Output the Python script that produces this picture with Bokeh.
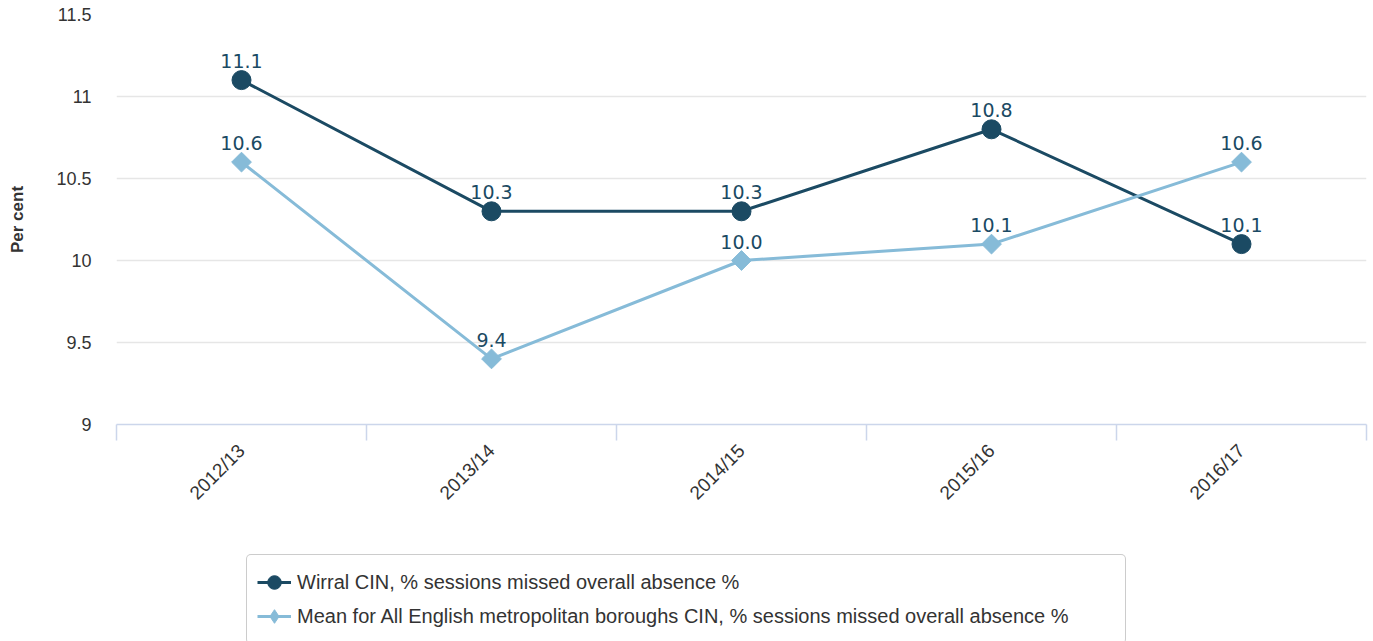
import math
from bokeh.plotting import figure
from bokeh.layouts import column
from bokeh.models import (LinearAxis, FixedTicker, CustomJSTickFormatter, Legend, LegendItem,
                          ColumnDataSource, Range1d, Grid)
from bokeh.core.properties import value
from bokeh.embed import file_html
from bokeh.resources import INLINE

# ---- data ----
categories = ["2012/13", "2013/14", "2014/15", "2015/16", "2016/17"]
wirral = [11.1, 10.3, 10.3, 10.8, 10.1]
england_mean = [10.6, 9.4, 10.0, 10.1, 10.6]
y_ticks = [9, 9.5, 10, 10.5, 11, 11.5]
series_names = [
    "Wirral CIN, % sessions missed overall absence %",
    "Mean for All English metropolitan boroughs CIN, % sessions missed overall absence %",
]
y_title = "Per cent"

DARK = "#1b4a63"
LIGHT = "#86bbd8"
TXT = "#333333"
SANS = "Liberation Sans"

W = 1373
H_MAIN = 530
H_LEG = 641 - H_MAIN

xpos = [i + 0.5 for i in range(len(categories))]
src = ColumnDataSource(dict(
    x=xpos, cat=categories, w=wirral, m=england_mean,
    wl=[f"{v:.1f}" for v in wirral], ml=[f"{v:.1f}" for v in england_mean],
))

p = figure(width=W, height=H_MAIN, output_backend="svg", toolbar_location=None,
           x_range=Range1d(0, len(categories)), y_range=Range1d(y_ticks[0], y_ticks[-1]),
           x_axis_type=None, y_axis_type=None,
           min_border_left=116, min_border_right=7, min_border_top=14, min_border_bottom=H_MAIN - 424)
p.outline_line_color = None
p.background_fill_color = "white"
p.border_fill_color = "white"

# y axis
yaxis = LinearAxis(ticker=FixedTicker(ticks=y_ticks),
                   formatter=CustomJSTickFormatter(code="return tick.toString()"),
                   axis_line_color=None, major_tick_line_color=None, minor_tick_line_color=None,
                   major_label_text_font=SANS, major_label_text_font_size="18px",
                   major_label_text_color=TXT, major_label_standoff=19,
                   axis_label=y_title, axis_label_text_font=SANS, axis_label_text_font_size="17px",
                   axis_label_text_font_style="bold", axis_label_text_color=TXT,
                   axis_label_standoff=26)
p.add_layout(yaxis, "left")
p.add_layout(Grid(dimension=1, ticker=yaxis.ticker, grid_line_color="#e6e6e6", grid_line_width=1.5))

# x axis: boundary ticks
xtick_axis = LinearAxis(ticker=FixedTicker(ticks=list(range(len(categories) + 1))),
                        formatter=CustomJSTickFormatter(code="return ''"),
                        axis_line_color="#ccd6eb", axis_line_width=1.5,
                        major_tick_line_color="#ccd6eb", major_tick_line_width=1.5,
                        major_tick_out=16, major_tick_in=0, minor_tick_line_color=None,
                        major_label_text_font_size="0px", major_label_standoff=0)
p.add_layout(xtick_axis, "below")

# x axis: category labels
xlabel_axis = LinearAxis(ticker=FixedTicker(ticks=xpos),
                         formatter=CustomJSTickFormatter(args=dict(cats=categories),
                                                         code="return cats[Math.floor(tick)] || ''"),
                         axis_line_color=None, major_tick_line_color=None, minor_tick_line_color=None,
                         major_label_orientation=math.pi / 4,
                         major_label_text_font=SANS, major_label_text_font_size="19px",
                         major_label_text_color=TXT, major_label_standoff=1)
p.add_layout(xlabel_axis, "below")


def draw_series(fig, mean_marker, mean_angle):
    wl = fig.line("x", "w", source=src, line_color=DARK, line_width=3)
    wp = fig.scatter("x", "w", source=src, marker="circle", size=19, fill_color=DARK, line_color=DARK)
    ml = fig.line("x", "m", source=src, line_color=LIGHT, line_width=3)
    mp = fig.scatter("x", "m", source=src, marker=mean_marker, angle=mean_angle, size=14,
                     fill_color=LIGHT, line_color=LIGHT)
    return wl, wp, ml, mp


draw_series(p, "square", math.pi / 4)
for col, lab in (("w", "wl"), ("m", "ml")):
    p.text("x", col, text=lab, source=src, text_align="center", text_baseline="bottom",
           y_offset=-12, text_color=DARK, text_font=value("DejaVu Sans"), text_font_size="19px")

# legend panel (separate figure below, series drawn out of its visible range)
lf = figure(width=W, height=H_LEG, output_backend="svg", toolbar_location=None,
            x_range=Range1d(0, 1), y_range=Range1d(0, 1), x_axis_type=None, y_axis_type=None,
            min_border=0)
lf.min_border_left = lf.min_border_right = lf.min_border_top = lf.min_border_bottom = 0
lf.outline_line_color = None
lf.background_fill_color = "white"
lf.border_fill_color = "white"
lwl, lwp, lml, lmp = draw_series(lf, "diamond", 0)

legend = Legend(items=[LegendItem(label=series_names[0], renderers=[lwl, lwp]),
                       LegendItem(label=series_names[1], renderers=[lml, lmp])],
                location=(130, -3), orientation="vertical", padding=10, spacing=0,
                glyph_width=34, glyph_height=34, label_standoff=6, label_width=818, label_height=24,
                border_line_color="#999999", border_line_width=1,
                background_fill_color="white", background_fill_alpha=1.0,
                label_text_font=SANS, label_text_font_size="20px", label_text_color=TXT, margin=0)
if "border_radius" in Legend.properties():
    legend.border_radius = 5
lf.add_layout(legend, "center")

layout = column(p, lf, spacing=0)
open("out.html", "w").write(file_html(layout, INLINE))
